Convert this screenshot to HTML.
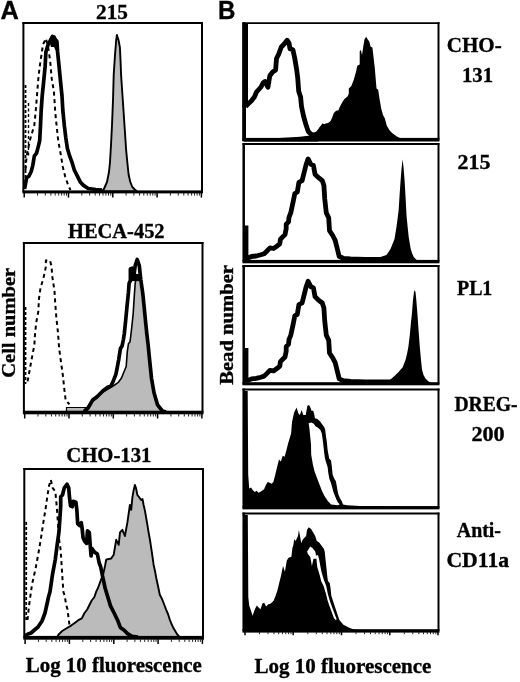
<!DOCTYPE html>
<html><head><meta charset="utf-8"><style>
html,body{margin:0;padding:0;background:#fff;}
body{width:520px;height:682px;overflow:hidden;font-family:"Liberation Serif",serif;}
svg{display:block;will-change:transform;}
</style></head><body>
<svg width="520" height="682" viewBox="0 0 520 682">
<rect width="520" height="682" fill="#fff"/>
<polygon points="100.0,191.5 103.7,189.5 107.0,182.0 109.0,172.0 110.0,162.0 111.0,145.0 112.0,125.0 113.0,100.0 113.7,75.0 115.0,55.0 116.2,40.0 116.9,35.0 118.5,40.0 119.9,47.4 120.5,60.0 121.1,75.0 122.3,93.0 123.6,112.0 124.8,130.0 126.1,149.6 127.3,162.0 128.6,174.5 130.3,182.0 132.3,187.0 134.8,189.5 137.0,191.5" fill="#bbbbbb" stroke="#000" stroke-width="1.9" stroke-linejoin="round"/>
<polyline points="25.5,170.0 26.6,156.2 28.2,148.5 29.7,140.8 32.0,133.0 34.3,125.4 35.8,110.0 37.0,95.3 38.2,80.0 39.4,68.7 41.0,58.0 43.0,44.5 46.0,38.5 48.5,49.4 50.3,62.3 51.7,78.4 53.9,91.6 54.7,103.3 55.1,110.0 56.1,121.0 56.6,125.4 58.2,140.8 60.5,153.0 62.8,166.9 65.1,176.2 68.2,185.4 70.5,190.0" fill="none" stroke="#000" stroke-width="2" stroke-dasharray="4,3.5"/>
<polyline points="25.5,85 25.5,190" fill="none" stroke="#000" stroke-width="1.8" stroke-dasharray="3,2"/>
<polyline points="28.5,103 28.5,156" fill="none" stroke="#000" stroke-width="1.4" stroke-dasharray="3,2.5"/>
<polyline points="24.5,189.0 25.8,182.3 26.6,177.7 28.9,176.2 31.2,171.5 32.8,165.4 34.3,156.2 36.6,153.0 38.2,146.9 39.7,140.8 40.5,125.4 41.2,110.0 42.2,96.0 43.7,81.3 45.1,66.7 45.9,52.0 48.0,45.0 50.5,40.0 52.5,36.5 54.0,37.0 55.5,40.0 56.9,41.7 57.6,52.0 59.1,66.7 60.5,81.3 62.0,96.0 62.8,110.0 64.3,125.4 65.8,137.7 67.4,148.5 69.7,156.2 72.0,162.3 74.3,170.0 77.4,176.2 80.5,182.3 83.5,185.4 88.2,188.5 95.8,189.5 102.0,190.0" fill="none" stroke="#000" stroke-width="3.7" stroke-linejoin="round"/>
<polygon points="49.5,42 52.5,35.5 55.5,38 58.2,40 58.3,52 56.5,52 54,47 51,47" fill="#000"/>
<polygon points="86.0,412.0 88.0,409.0 92.7,401.0 97.3,397.5 103.0,392.0 108.0,389.0 114.6,385.0 118.0,382.7 121.5,378.0 123.8,372.3 126.2,366.5 126.7,359.6 127.3,351.5 128.5,343.5 130.0,342.0 131.8,327.0 133.2,313.3 133.8,303.8 134.5,292.9 135.2,283.3 136.0,278.0 137.5,279.0 139.5,282.0 141.0,292.9 142.5,306.5 143.8,320.1 145.1,333.7 146.5,344.6 149.0,358.9 151.0,378.2 153.5,392.7 157.0,404.9 161.0,412.0" fill="#bbbbbb" stroke="none"/>
<rect x="66.7" y="407.7" width="19" height="3.8" fill="#bbbbbb" stroke="none"/>
<polyline points="66.5,411 66.5,407.5 86,407.5" fill="none" stroke="#000" stroke-width="1.2"/>
<polyline points="86.0,411.0 88.0,409.0 92.7,401.0 97.3,397.5 103.0,392.0 108.0,389.0 114.6,385.0 118.0,382.7 121.5,378.0 123.8,372.3 126.2,366.5 126.7,359.6 127.3,351.5 128.5,343.5 130.0,342.0 131.8,327.0 133.2,313.3 133.8,303.8 134.5,292.9 135.2,283.3 136.0,278.0" fill="none" stroke="#000" stroke-width="1.6" stroke-linejoin="round"/>
<polyline points="84.0,411.5 88.0,408.0 92.7,400.0 97.3,396.5 103.0,390.8 107.7,387.3 111.0,386.0 113.5,380.4 115.8,374.6 117.0,368.8 118.7,359.6 120.4,348.7 122.1,345.8 123.3,340.0 124.3,333.7 125.7,320.1 127.0,306.5 128.4,292.9 129.1,283.3 130.4,280.6 130.4,269.0 131.8,268.3 132.5,272.4 133.8,276.5 135.2,265.6 137.2,259.5 139.3,265.6 140.7,279.2 142.7,292.9 144.1,306.5 145.4,320.1 146.8,333.7 148.1,344.6 149.5,358.9 151.5,378.2 154.0,392.7 157.6,404.9 162.4,411.0 166.0,412.0" fill="none" stroke="#000" stroke-width="3.7" stroke-linejoin="round"/>
<polygon points="129.5,281 141.3,281.3 139,274 131,273.8" fill="#000"/>
<polyline points="27.6,381.4 29.5,371.0 31.4,360.5 33.0,352.0 34.4,345.0 34.7,338.0 36.1,323.3 38.3,311.6 39.0,298.4 40.5,288.1 43.5,277.9 45.7,267.6 45.9,260.5 50.0,260.5 51.5,266.1 52.3,276.4 54.5,291.1 55.2,302.8 56.3,317.0 58.0,333.0 59.2,349.0 61.0,362.0 62.9,375.7 64.3,389.0 65.7,400.5 69.5,404.3" fill="none" stroke="#000" stroke-width="2" stroke-dasharray="4,3.5"/>
<polyline points="25.5,307 25.5,384" fill="none" stroke="#000" stroke-width="1.8" stroke-dasharray="3,2"/>
<polygon points="57.0,637.5 58.6,634.5 62.2,631.0 66.6,628.3 71.1,625.6 74.7,622.9 78.3,620.2 81.8,618.4 84.5,613.0 87.2,609.5 89.9,604.0 91.7,600.5 94.4,597.0 96.2,591.6 98.0,588.0 100.6,580.9 103.3,573.7 105.0,566.0 106.2,559.7 108.7,559.0 111.2,558.5 113.7,554.7 116.2,539.8 118.7,544.8 120.0,532.3 122.4,529.8 124.9,536.0 127.4,522.4 129.9,504.9 131.2,509.9 132.4,497.4 133.7,489.9 134.9,485.0 136.0,488.0 137.4,495.0 139.0,497.0 141.1,500.0 142.5,499.0 143.6,505.0 145.0,511.0 146.1,517.4 147.4,525.0 148.6,532.3 150.0,540.0 151.1,547.3 152.4,556.0 153.6,564.7 155.0,571.0 156.1,577.2 158.0,586.0 159.8,594.7 161.0,597.0 162.3,599.6 164.0,604.0 166.1,609.6 168.0,614.0 169.8,619.6 171.5,624.0 173.6,628.3 175.5,631.5 177.3,634.5 180.0,637.5" fill="#bbbbbb" stroke="#000" stroke-width="1.9" stroke-linejoin="round"/>
<polyline points="27.5,620.0 29.0,606.0 31.0,591.7 32.0,584.5 35.6,568.4 38.3,554.0 41.0,538.0 43.7,520.0 45.5,509.4 47.3,496.8 49.0,486.0 50.8,479.8 52.6,487.9 55.3,491.5 56.2,500.4 57.1,511.2 58.0,523.7 58.9,538.0 60.7,550.5 61.6,564.9 62.5,579.2 63.4,591.7 64.8,596.0 66.0,604.0 67.5,609.5 69.3,623.8 70.0,627.0" fill="none" stroke="#000" stroke-width="2" stroke-dasharray="4,3.5"/>
<polyline points="26.2,522 26.2,620" fill="none" stroke="#000" stroke-width="1.8" stroke-dasharray="3,2"/>
<polyline points="24.5,636.0 28.0,634.0 31.0,633.0 35.0,629.5 38.0,627.0 42.0,621.0 45.0,613.0 47.0,604.0 48.5,597.0 50.0,591.7 52.6,573.8 55.3,559.5 57.1,545.2 58.9,532.6 59.8,520.1 60.7,505.8 60.7,496.8 62.5,495.0 64.3,487.9 67.0,484.3 68.7,487.9 69.6,498.6 70.5,505.8 72.3,506.7 73.2,501.3 75.9,502.2 76.8,509.4 77.7,523.7 79.5,525.5 81.3,522.8 82.2,529.0 83.1,538.0 84.9,541.6 86.6,543.4 87.5,530.9 89.3,532.6 90.2,545.2 91.1,555.9 92.0,548.7 94.7,552.3 97.4,554.1 99.2,563.0 100.6,566.5 102.4,575.5 105.1,588.0 107.8,597.0 110.5,605.9 114.1,613.0 117.6,620.2 120.3,627.4 123.9,630.0 127.5,633.6 132.0,636.3 138.0,637.0" fill="none" stroke="#000" stroke-width="3.7" stroke-linejoin="round"/>
<line x1="22.4" y1="23.1" x2="203.0" y2="23.1" stroke="#000" stroke-width="2.0"/>
<line x1="23.4" y1="22.1" x2="23.4" y2="191.9" stroke="#000" stroke-width="2.0"/>
<line x1="202.0" y1="22.1" x2="202.0" y2="191.9" stroke="#000" stroke-width="2.0"/>
<rect x="22.4" y="190.4" width="180.6" height="3.0" fill="#000"/>
<line x1="24.2" y1="192.9" x2="24.2" y2="197.6" stroke="#000" stroke-width="1.5"/>
<line x1="37.5" y1="192.9" x2="37.5" y2="195.6" stroke="#222" stroke-width="1"/>
<line x1="45.3" y1="192.9" x2="45.3" y2="195.6" stroke="#222" stroke-width="1"/>
<line x1="50.9" y1="192.9" x2="50.9" y2="195.6" stroke="#222" stroke-width="1"/>
<line x1="55.2" y1="192.9" x2="55.2" y2="195.6" stroke="#222" stroke-width="1"/>
<line x1="58.7" y1="192.9" x2="58.7" y2="195.6" stroke="#222" stroke-width="1"/>
<line x1="61.6" y1="192.9" x2="61.6" y2="195.6" stroke="#222" stroke-width="1"/>
<line x1="64.2" y1="192.9" x2="64.2" y2="195.6" stroke="#222" stroke-width="1"/>
<line x1="66.5" y1="192.9" x2="66.5" y2="195.6" stroke="#222" stroke-width="1"/>
<line x1="68.5" y1="192.9" x2="68.5" y2="197.6" stroke="#000" stroke-width="1.5"/>
<line x1="81.8" y1="192.9" x2="81.8" y2="195.6" stroke="#222" stroke-width="1"/>
<line x1="89.6" y1="192.9" x2="89.6" y2="195.6" stroke="#222" stroke-width="1"/>
<line x1="95.2" y1="192.9" x2="95.2" y2="195.6" stroke="#222" stroke-width="1"/>
<line x1="99.5" y1="192.9" x2="99.5" y2="195.6" stroke="#222" stroke-width="1"/>
<line x1="103.0" y1="192.9" x2="103.0" y2="195.6" stroke="#222" stroke-width="1"/>
<line x1="105.9" y1="192.9" x2="105.9" y2="195.6" stroke="#222" stroke-width="1"/>
<line x1="108.5" y1="192.9" x2="108.5" y2="195.6" stroke="#222" stroke-width="1"/>
<line x1="110.8" y1="192.9" x2="110.8" y2="195.6" stroke="#222" stroke-width="1"/>
<line x1="112.8" y1="192.9" x2="112.8" y2="197.6" stroke="#000" stroke-width="1.5"/>
<line x1="126.1" y1="192.9" x2="126.1" y2="195.6" stroke="#222" stroke-width="1"/>
<line x1="133.9" y1="192.9" x2="133.9" y2="195.6" stroke="#222" stroke-width="1"/>
<line x1="139.5" y1="192.9" x2="139.5" y2="195.6" stroke="#222" stroke-width="1"/>
<line x1="143.8" y1="192.9" x2="143.8" y2="195.6" stroke="#222" stroke-width="1"/>
<line x1="147.3" y1="192.9" x2="147.3" y2="195.6" stroke="#222" stroke-width="1"/>
<line x1="150.2" y1="192.9" x2="150.2" y2="195.6" stroke="#222" stroke-width="1"/>
<line x1="152.8" y1="192.9" x2="152.8" y2="195.6" stroke="#222" stroke-width="1"/>
<line x1="155.1" y1="192.9" x2="155.1" y2="195.6" stroke="#222" stroke-width="1"/>
<line x1="157.1" y1="192.9" x2="157.1" y2="197.6" stroke="#000" stroke-width="1.5"/>
<line x1="170.4" y1="192.9" x2="170.4" y2="195.6" stroke="#222" stroke-width="1"/>
<line x1="178.2" y1="192.9" x2="178.2" y2="195.6" stroke="#222" stroke-width="1"/>
<line x1="183.8" y1="192.9" x2="183.8" y2="195.6" stroke="#222" stroke-width="1"/>
<line x1="188.1" y1="192.9" x2="188.1" y2="195.6" stroke="#222" stroke-width="1"/>
<line x1="191.6" y1="192.9" x2="191.6" y2="195.6" stroke="#222" stroke-width="1"/>
<line x1="194.5" y1="192.9" x2="194.5" y2="195.6" stroke="#222" stroke-width="1"/>
<line x1="197.1" y1="192.9" x2="197.1" y2="195.6" stroke="#222" stroke-width="1"/>
<line x1="199.4" y1="192.9" x2="199.4" y2="195.6" stroke="#222" stroke-width="1"/>
<line x1="201.4" y1="192.9" x2="201.4" y2="197.6" stroke="#000" stroke-width="1.5"/>
<line x1="22.9" y1="243.1" x2="203.5" y2="243.1" stroke="#000" stroke-width="2.0"/>
<line x1="23.9" y1="242.1" x2="23.9" y2="412.5" stroke="#000" stroke-width="2.0"/>
<line x1="202.5" y1="242.1" x2="202.5" y2="412.5" stroke="#000" stroke-width="2.0"/>
<rect x="22.9" y="410.7" width="180.6" height="3.6" fill="#000"/>
<line x1="24.7" y1="413.8" x2="24.7" y2="418.5" stroke="#000" stroke-width="1.5"/>
<line x1="38.0" y1="413.8" x2="38.0" y2="416.5" stroke="#222" stroke-width="1"/>
<line x1="45.8" y1="413.8" x2="45.8" y2="416.5" stroke="#222" stroke-width="1"/>
<line x1="51.4" y1="413.8" x2="51.4" y2="416.5" stroke="#222" stroke-width="1"/>
<line x1="55.7" y1="413.8" x2="55.7" y2="416.5" stroke="#222" stroke-width="1"/>
<line x1="59.2" y1="413.8" x2="59.2" y2="416.5" stroke="#222" stroke-width="1"/>
<line x1="62.1" y1="413.8" x2="62.1" y2="416.5" stroke="#222" stroke-width="1"/>
<line x1="64.7" y1="413.8" x2="64.7" y2="416.5" stroke="#222" stroke-width="1"/>
<line x1="67.0" y1="413.8" x2="67.0" y2="416.5" stroke="#222" stroke-width="1"/>
<line x1="69.0" y1="413.8" x2="69.0" y2="418.5" stroke="#000" stroke-width="1.5"/>
<line x1="82.3" y1="413.8" x2="82.3" y2="416.5" stroke="#222" stroke-width="1"/>
<line x1="90.1" y1="413.8" x2="90.1" y2="416.5" stroke="#222" stroke-width="1"/>
<line x1="95.7" y1="413.8" x2="95.7" y2="416.5" stroke="#222" stroke-width="1"/>
<line x1="100.0" y1="413.8" x2="100.0" y2="416.5" stroke="#222" stroke-width="1"/>
<line x1="103.5" y1="413.8" x2="103.5" y2="416.5" stroke="#222" stroke-width="1"/>
<line x1="106.4" y1="413.8" x2="106.4" y2="416.5" stroke="#222" stroke-width="1"/>
<line x1="109.0" y1="413.8" x2="109.0" y2="416.5" stroke="#222" stroke-width="1"/>
<line x1="111.3" y1="413.8" x2="111.3" y2="416.5" stroke="#222" stroke-width="1"/>
<line x1="113.3" y1="413.8" x2="113.3" y2="418.5" stroke="#000" stroke-width="1.5"/>
<line x1="126.6" y1="413.8" x2="126.6" y2="416.5" stroke="#222" stroke-width="1"/>
<line x1="134.4" y1="413.8" x2="134.4" y2="416.5" stroke="#222" stroke-width="1"/>
<line x1="140.0" y1="413.8" x2="140.0" y2="416.5" stroke="#222" stroke-width="1"/>
<line x1="144.3" y1="413.8" x2="144.3" y2="416.5" stroke="#222" stroke-width="1"/>
<line x1="147.8" y1="413.8" x2="147.8" y2="416.5" stroke="#222" stroke-width="1"/>
<line x1="150.7" y1="413.8" x2="150.7" y2="416.5" stroke="#222" stroke-width="1"/>
<line x1="153.3" y1="413.8" x2="153.3" y2="416.5" stroke="#222" stroke-width="1"/>
<line x1="155.6" y1="413.8" x2="155.6" y2="416.5" stroke="#222" stroke-width="1"/>
<line x1="157.6" y1="413.8" x2="157.6" y2="418.5" stroke="#000" stroke-width="1.5"/>
<line x1="170.9" y1="413.8" x2="170.9" y2="416.5" stroke="#222" stroke-width="1"/>
<line x1="178.7" y1="413.8" x2="178.7" y2="416.5" stroke="#222" stroke-width="1"/>
<line x1="184.3" y1="413.8" x2="184.3" y2="416.5" stroke="#222" stroke-width="1"/>
<line x1="188.6" y1="413.8" x2="188.6" y2="416.5" stroke="#222" stroke-width="1"/>
<line x1="192.1" y1="413.8" x2="192.1" y2="416.5" stroke="#222" stroke-width="1"/>
<line x1="195.0" y1="413.8" x2="195.0" y2="416.5" stroke="#222" stroke-width="1"/>
<line x1="197.6" y1="413.8" x2="197.6" y2="416.5" stroke="#222" stroke-width="1"/>
<line x1="199.9" y1="413.8" x2="199.9" y2="416.5" stroke="#222" stroke-width="1"/>
<line x1="201.9" y1="413.8" x2="201.9" y2="418.5" stroke="#000" stroke-width="1.5"/>
<line x1="23.3" y1="469.1" x2="204.0" y2="469.1" stroke="#000" stroke-width="2.0"/>
<line x1="24.3" y1="468.1" x2="24.3" y2="637.8" stroke="#000" stroke-width="2.0"/>
<line x1="203.0" y1="468.1" x2="203.0" y2="637.8" stroke="#000" stroke-width="2.0"/>
<rect x="23.3" y="635.9" width="180.7" height="3.8" fill="#000"/>
<line x1="25.1" y1="639.1999999999999" x2="25.1" y2="643.9" stroke="#000" stroke-width="1.5"/>
<line x1="38.4" y1="639.1999999999999" x2="38.4" y2="641.9" stroke="#222" stroke-width="1"/>
<line x1="46.2" y1="639.1999999999999" x2="46.2" y2="641.9" stroke="#222" stroke-width="1"/>
<line x1="51.8" y1="639.1999999999999" x2="51.8" y2="641.9" stroke="#222" stroke-width="1"/>
<line x1="56.1" y1="639.1999999999999" x2="56.1" y2="641.9" stroke="#222" stroke-width="1"/>
<line x1="59.6" y1="639.1999999999999" x2="59.6" y2="641.9" stroke="#222" stroke-width="1"/>
<line x1="62.6" y1="639.1999999999999" x2="62.6" y2="641.9" stroke="#222" stroke-width="1"/>
<line x1="65.1" y1="639.1999999999999" x2="65.1" y2="641.9" stroke="#222" stroke-width="1"/>
<line x1="67.4" y1="639.1999999999999" x2="67.4" y2="641.9" stroke="#222" stroke-width="1"/>
<line x1="69.4" y1="639.1999999999999" x2="69.4" y2="643.9" stroke="#000" stroke-width="1.5"/>
<line x1="82.8" y1="639.1999999999999" x2="82.8" y2="641.9" stroke="#222" stroke-width="1"/>
<line x1="90.6" y1="639.1999999999999" x2="90.6" y2="641.9" stroke="#222" stroke-width="1"/>
<line x1="96.1" y1="639.1999999999999" x2="96.1" y2="641.9" stroke="#222" stroke-width="1"/>
<line x1="100.4" y1="639.1999999999999" x2="100.4" y2="641.9" stroke="#222" stroke-width="1"/>
<line x1="103.9" y1="639.1999999999999" x2="103.9" y2="641.9" stroke="#222" stroke-width="1"/>
<line x1="106.9" y1="639.1999999999999" x2="106.9" y2="641.9" stroke="#222" stroke-width="1"/>
<line x1="109.5" y1="639.1999999999999" x2="109.5" y2="641.9" stroke="#222" stroke-width="1"/>
<line x1="111.7" y1="639.1999999999999" x2="111.7" y2="641.9" stroke="#222" stroke-width="1"/>
<line x1="113.8" y1="639.1999999999999" x2="113.8" y2="643.9" stroke="#000" stroke-width="1.5"/>
<line x1="127.1" y1="639.1999999999999" x2="127.1" y2="641.9" stroke="#222" stroke-width="1"/>
<line x1="134.9" y1="639.1999999999999" x2="134.9" y2="641.9" stroke="#222" stroke-width="1"/>
<line x1="140.4" y1="639.1999999999999" x2="140.4" y2="641.9" stroke="#222" stroke-width="1"/>
<line x1="144.7" y1="639.1999999999999" x2="144.7" y2="641.9" stroke="#222" stroke-width="1"/>
<line x1="148.2" y1="639.1999999999999" x2="148.2" y2="641.9" stroke="#222" stroke-width="1"/>
<line x1="151.2" y1="639.1999999999999" x2="151.2" y2="641.9" stroke="#222" stroke-width="1"/>
<line x1="153.8" y1="639.1999999999999" x2="153.8" y2="641.9" stroke="#222" stroke-width="1"/>
<line x1="156.0" y1="639.1999999999999" x2="156.0" y2="641.9" stroke="#222" stroke-width="1"/>
<line x1="158.1" y1="639.1999999999999" x2="158.1" y2="643.9" stroke="#000" stroke-width="1.5"/>
<line x1="171.4" y1="639.1999999999999" x2="171.4" y2="641.9" stroke="#222" stroke-width="1"/>
<line x1="179.2" y1="639.1999999999999" x2="179.2" y2="641.9" stroke="#222" stroke-width="1"/>
<line x1="184.8" y1="639.1999999999999" x2="184.8" y2="641.9" stroke="#222" stroke-width="1"/>
<line x1="189.1" y1="639.1999999999999" x2="189.1" y2="641.9" stroke="#222" stroke-width="1"/>
<line x1="192.6" y1="639.1999999999999" x2="192.6" y2="641.9" stroke="#222" stroke-width="1"/>
<line x1="195.5" y1="639.1999999999999" x2="195.5" y2="641.9" stroke="#222" stroke-width="1"/>
<line x1="198.1" y1="639.1999999999999" x2="198.1" y2="641.9" stroke="#222" stroke-width="1"/>
<line x1="200.4" y1="639.1999999999999" x2="200.4" y2="641.9" stroke="#222" stroke-width="1"/>
<line x1="202.4" y1="639.1999999999999" x2="202.4" y2="643.9" stroke="#000" stroke-width="1.5"/>
<polygon points="316.0,141.0 316.5,135.0 318.8,132.7 321.2,128.0 323.5,124.6 325.8,123.5 328.0,122.9 330.4,121.2 332.1,117.7 333.8,113.0 336.2,110.8 338.5,110.2 339.6,107.3 342.0,102.7 344.2,99.2 347.7,96.3 348.8,93.5 348.8,88.5 351.3,86.1 353.7,80.1 356.0,71.7 357.3,65.7 359.7,64.5 359.7,51.2 360.9,50.0 362.0,54.9 363.3,46.4 364.5,39.2 366.2,36.8 367.6,39.2 369.3,41.6 370.5,46.4 372.4,47.6 373.4,56.0 374.8,68.0 376.5,88.5 378.2,89.7 379.6,99.3 381.3,109.0 383.0,115.0 384.9,118.6 386.8,125.8 389.7,130.6 392.1,133.0 396.9,136.6 400.5,138.3 438.0,138.3 438.0,141.0" fill="#000"/>
<polyline points="245.5,106.5 248.0,104.0 251.5,100.8 254.4,97.0 256.5,92.0 259.2,89.0 261.0,87.0 263.0,83.0 265.0,81.5 267.9,87.3 269.8,75.8 272.7,72.0 275.6,70.0 276.5,58.5 278.5,54.6 281.3,47.0 284.2,44.0 287.1,40.2 289.0,43.0 290.0,48.8 292.9,49.8 294.8,58.5 296.7,70.0 297.7,77.7 298.7,91.2 300.6,97.0 301.5,106.5 303.5,116.0 306.3,125.8 308.3,131.5 311.2,134.4 315.0,135.0 317.9,133.5 320.8,129.6 324.6,124.8" fill="none" stroke="#000" stroke-width="4.8" stroke-linejoin="round"/>
<rect x="242.3" y="23" width="5.7" height="84" fill="#000"/>
<rect x="242.4" y="105" width="3.6" height="36" fill="#000"/>
<polygon points="244,141.5 244,140 250,139.6 270,138.6 288,137.6 300,136.8 310,135.6 318,135.2 318,141.5" fill="#000"/>
<polygon points="368.0,261.0 372.0,259.5 376.0,258.5 380.4,257.0 386.4,255.0 388.5,252.0 390.5,249.0 392.5,244.0 394.5,239.0 396.5,226.8 398.6,210.7 399.6,195.0 400.6,180.4 401.6,168.0 402.6,159.2 403.6,168.0 404.6,180.4 405.6,198.0 406.6,216.7 408.7,237.0 410.7,249.0 412.0,253.0 413.7,257.0 416.7,260.0 420.0,261.0" fill="#000"/>
<polyline points="246.0,225.5 246.0,258.0 248.7,257.7 251.5,256.5 256.2,256.0 260.8,254.8 264.2,253.7 267.7,250.2 270.0,247.9 273.5,248.5 276.9,246.2 279.8,243.8 280.4,239.2 282.7,236.9 285.0,234.6 286.2,228.8 286.2,224.2 288.5,221.9 289.0,217.3 290.8,212.7 291.6,209.0 293.2,201.6 294.8,193.5 297.3,192.0 298.9,182.3 302.1,180.6 304.5,171.0 306.0,165.0 308.1,158.9 311.0,164.5 313.4,165.3 315.0,174.2 318.2,177.4 322.3,180.6 323.9,185.5 324.7,198.4 326.3,212.9 328.7,217.7 329.5,230.6 332.7,235.5 335.2,240.3 337.6,250.0 339.2,256.5 343.4,258.3 350.6,259.0 365.0,259.5 380.0,259.5 392.0,259.5" fill="none" stroke="#000" stroke-width="4.8" stroke-linejoin="round"/>
<polyline points="246.0,347.9 246.0,380.4 248.7,380.1 251.5,378.9 256.2,378.4 260.8,377.2 264.2,376.1 267.7,372.6 270.0,370.3 273.5,370.9 276.9,368.6 279.8,366.2 280.4,361.6 282.7,359.3 285.0,357.0 286.2,351.2 286.2,346.6 288.5,344.3 289.0,339.7 290.8,335.1 291.6,331.4 293.2,324.0 294.8,315.9 297.3,314.4 298.9,304.7 302.1,303.0 304.5,293.4 306.0,287.4 308.1,281.3 311.0,286.9 313.4,287.7 315.0,296.6 318.2,299.8 322.3,303.0 323.9,307.9 324.7,320.8 326.3,335.3 328.7,340.1 329.5,353.0 332.7,357.9 335.2,362.7 337.6,372.4 339.2,378.9 343.4,380.7 350.6,381.4 365.0,381.9 380.0,381.9 392.0,381.9" fill="none" stroke="#000" stroke-width="4.8" stroke-linejoin="round"/>
<polygon points="385.0,384.0 388.0,382.0 391.0,379.0 395.0,375.5 399.0,371.5 402.7,367.3 405.5,360.0 407.0,354.0 408.4,346.8 409.8,335.0 411.0,322.0 411.8,315.0 413.0,300.0 414.0,292.0 414.7,290.3 415.5,292.0 416.3,300.0 417.5,315.0 418.7,332.0 419.8,346.8 421.0,360.0 422.0,369.5 423.5,375.0 425.5,378.6 428.0,381.0 432.0,383.5" fill="#000"/>
<polygon points="243.5,508.0 243.5,391.0 247.7,391.0 248.2,474.4 249.2,488.4 251.0,487.5 252.9,490.3 254.8,492.1 256.6,490.8 258.5,492.7 261.3,491.2 264.1,489.3 266.0,484.7 267.8,481.9 269.7,482.8 271.5,483.8 273.4,481.9 275.3,474.4 277.1,467.0 279.0,459.5 280.9,461.4 282.7,455.8 284.6,456.7 286.4,450.2 288.3,442.8 291.1,433.4 292.0,422.3 293.0,417.6 294.1,412.4 296.6,407.4 298.3,413.2 299.9,414.9 301.6,409.9 303.3,414.9 305.7,414.9 307.4,405.8 309.1,404.9 310.7,408.3 311.5,410.7 313.2,410.7 314.0,413.2 314.9,418.2 317.4,419.0 320.2,421.5 321.9,424.0 324.3,427.3 325.2,429.8 326.0,436.4 326.8,441.4 327.6,449.7 328.5,454.7 329.3,458.8 331.0,460.5 331.8,466.3 332.6,474.6 334.3,478.7 335.9,481.2 336.8,486.2 337.6,491.1 338.4,494.5 340.1,498.6 341.7,501.1 343.0,504.4 347.2,505.2 360.0,506.0 438.0,506.3 438.0,508.0" fill="#000"/>
<polygon points="308.6,423.2 309.4,428.2 310.2,436.4 311.0,444.7 311.2,454.7 312.9,464.6 314.5,471.2 317.0,477.9 319.5,484.5 322.0,491.1 324.5,496.1 327.8,501.1 331.1,504.4 338.1,505.2 339.7,504.2 338.0,502.5 336.6,500.0 335.4,497.0 334.2,494.0 333.1,491.0 332.0,486.5 330.8,482.5 329.4,479.0 328.3,473.0 327.6,467.0 326.0,462.0 325.0,458.5 324.2,453.0 323.5,446.4 322.7,439.8 321.8,433.5 320.4,430.0 318.0,427.8 315.5,426.2 313.8,423.8 311.3,422.6" fill="#fff"/>
<polygon points="243.5,632.0 243.5,515.0 247.8,515.0 248.3,597.0 249.2,605.5 251.1,611.1 252.6,615.8 254.9,609.3 256.8,605.5 258.6,607.4 260.5,609.3 262.4,603.6 264.2,602.7 266.1,606.4 268.0,604.6 270.8,603.6 273.6,600.8 275.5,596.1 277.4,590.5 279.2,583.0 281.1,575.5 283.0,566.1 284.9,571.8 286.8,560.5 288.6,557.7 291.4,556.8 292.4,548.0 293.3,545.5 294.2,539.0 295.3,540.9 296.1,539.9 298.0,536.1 298.9,530.0 300.0,536.0 301.3,543.3 302.5,540.0 303.7,538.5 306.1,536.0 307.0,530.0 308.7,527.3 311.1,528.9 313.5,532.9 315.2,536.1 316.8,541.0 319.2,542.6 321.6,545.8 324.0,549.0 324.8,552.3 325.6,560.3 326.5,568.4 327.3,576.5 328.0,581.3 329.7,582.9 330.5,587.7 331.3,595.8 332.9,600.6 334.5,605.5 336.1,610.3 337.7,615.2 339.4,620.0 343.4,624.8 349.8,628.0 354.7,629.7 370.0,630.0 438.0,630.0 438.0,632.0" fill="#000"/>
<polygon points="307.1,551.5 310.3,546.6 312.7,548.2 315.2,551.5 316.8,558.7 313.5,558.7 311.9,566.0 310.3,557.0 307.9,553.9" fill="#fff"/>
<polygon points="315.1,556.0 316.4,558.7 317.2,566.8 319.6,574.8 321.2,581.3 323.6,586.1 326.1,594.2 327.6,600.6 329.3,605.5 331.7,611.9 334.1,618.4 335.6,620.0 336.7,619.2 335.1,615.2 332.7,608.7 330.3,602.3 327.9,594.2 326.2,586.1 323.8,579.7 321.4,571.6 319.0,558.7 317.9,555.0" fill="#fff"/>
<line x1="242.45" y1="23.1" x2="439.5" y2="23.1" stroke="#000" stroke-width="1.9"/>
<line x1="243.7" y1="22.150000000000002" x2="243.7" y2="139.7" stroke="#000" stroke-width="2.5"/>
<line x1="438.5" y1="22.150000000000002" x2="438.5" y2="139.7" stroke="#000" stroke-width="2.0"/>
<rect x="242.45" y="137.89999999999998" width="197.05" height="3.6" fill="#000"/>
<line x1="242.45" y1="144.0" x2="439.5" y2="144.0" stroke="#000" stroke-width="1.9"/>
<line x1="243.7" y1="143.05" x2="243.7" y2="261.6" stroke="#000" stroke-width="2.5"/>
<line x1="438.5" y1="143.05" x2="438.5" y2="261.6" stroke="#000" stroke-width="2.0"/>
<rect x="242.45" y="259.90000000000003" width="197.05" height="3.4" fill="#000"/>
<line x1="242.45" y1="266.0" x2="439.5" y2="266.0" stroke="#000" stroke-width="1.9"/>
<line x1="243.7" y1="265.05" x2="243.7" y2="383.75" stroke="#000" stroke-width="2.5"/>
<line x1="438.5" y1="265.05" x2="438.5" y2="383.75" stroke="#000" stroke-width="2.0"/>
<rect x="242.45" y="382.2" width="197.05" height="3.1" fill="#000"/>
<line x1="242.45" y1="389.5" x2="439.5" y2="389.5" stroke="#000" stroke-width="1.9"/>
<line x1="243.7" y1="388.55" x2="243.7" y2="507.8" stroke="#000" stroke-width="2.5"/>
<line x1="438.5" y1="388.55" x2="438.5" y2="507.8" stroke="#000" stroke-width="2.0"/>
<rect x="242.45" y="506.25" width="197.05" height="3.1" fill="#000"/>
<line x1="242.45" y1="513.5" x2="439.5" y2="513.5" stroke="#000" stroke-width="1.9"/>
<line x1="243.7" y1="512.55" x2="243.7" y2="630.9" stroke="#000" stroke-width="2.5"/>
<line x1="438.5" y1="512.55" x2="438.5" y2="630.9" stroke="#000" stroke-width="2.0"/>
<rect x="242.45" y="629.1999999999999" width="197.05" height="3.4" fill="#000"/>
<line x1="245.0" y1="632.1" x2="245.0" y2="635.2" stroke="#000" stroke-width="1.5"/>
<line x1="259.5" y1="632.1" x2="259.5" y2="634.2" stroke="#222" stroke-width="1"/>
<line x1="268.0" y1="632.1" x2="268.0" y2="634.2" stroke="#222" stroke-width="1"/>
<line x1="274.0" y1="632.1" x2="274.0" y2="634.2" stroke="#222" stroke-width="1"/>
<line x1="278.7" y1="632.1" x2="278.7" y2="634.2" stroke="#222" stroke-width="1"/>
<line x1="282.5" y1="632.1" x2="282.5" y2="634.2" stroke="#222" stroke-width="1"/>
<line x1="285.8" y1="632.1" x2="285.8" y2="634.2" stroke="#222" stroke-width="1"/>
<line x1="288.6" y1="632.1" x2="288.6" y2="634.2" stroke="#222" stroke-width="1"/>
<line x1="291.0" y1="632.1" x2="291.0" y2="634.2" stroke="#222" stroke-width="1"/>
<line x1="293.2" y1="632.1" x2="293.2" y2="635.2" stroke="#000" stroke-width="1.5"/>
<line x1="307.8" y1="632.1" x2="307.8" y2="634.2" stroke="#222" stroke-width="1"/>
<line x1="316.3" y1="632.1" x2="316.3" y2="634.2" stroke="#222" stroke-width="1"/>
<line x1="322.3" y1="632.1" x2="322.3" y2="634.2" stroke="#222" stroke-width="1"/>
<line x1="327.0" y1="632.1" x2="327.0" y2="634.2" stroke="#222" stroke-width="1"/>
<line x1="330.8" y1="632.1" x2="330.8" y2="634.2" stroke="#222" stroke-width="1"/>
<line x1="334.0" y1="632.1" x2="334.0" y2="634.2" stroke="#222" stroke-width="1"/>
<line x1="336.8" y1="632.1" x2="336.8" y2="634.2" stroke="#222" stroke-width="1"/>
<line x1="339.3" y1="632.1" x2="339.3" y2="634.2" stroke="#222" stroke-width="1"/>
<line x1="341.5" y1="632.1" x2="341.5" y2="635.2" stroke="#000" stroke-width="1.5"/>
<line x1="356.0" y1="632.1" x2="356.0" y2="634.2" stroke="#222" stroke-width="1"/>
<line x1="364.5" y1="632.1" x2="364.5" y2="634.2" stroke="#222" stroke-width="1"/>
<line x1="370.5" y1="632.1" x2="370.5" y2="634.2" stroke="#222" stroke-width="1"/>
<line x1="375.2" y1="632.1" x2="375.2" y2="634.2" stroke="#222" stroke-width="1"/>
<line x1="379.0" y1="632.1" x2="379.0" y2="634.2" stroke="#222" stroke-width="1"/>
<line x1="382.3" y1="632.1" x2="382.3" y2="634.2" stroke="#222" stroke-width="1"/>
<line x1="385.1" y1="632.1" x2="385.1" y2="634.2" stroke="#222" stroke-width="1"/>
<line x1="387.5" y1="632.1" x2="387.5" y2="634.2" stroke="#222" stroke-width="1"/>
<line x1="389.8" y1="632.1" x2="389.8" y2="635.2" stroke="#000" stroke-width="1.5"/>
<line x1="404.3" y1="632.1" x2="404.3" y2="634.2" stroke="#222" stroke-width="1"/>
<line x1="412.8" y1="632.1" x2="412.8" y2="634.2" stroke="#222" stroke-width="1"/>
<line x1="418.8" y1="632.1" x2="418.8" y2="634.2" stroke="#222" stroke-width="1"/>
<line x1="423.5" y1="632.1" x2="423.5" y2="634.2" stroke="#222" stroke-width="1"/>
<line x1="427.3" y1="632.1" x2="427.3" y2="634.2" stroke="#222" stroke-width="1"/>
<line x1="430.5" y1="632.1" x2="430.5" y2="634.2" stroke="#222" stroke-width="1"/>
<line x1="433.3" y1="632.1" x2="433.3" y2="634.2" stroke="#222" stroke-width="1"/>
<line x1="435.8" y1="632.1" x2="435.8" y2="634.2" stroke="#222" stroke-width="1"/>
<line x1="438.0" y1="632.1" x2="438.0" y2="635.2" stroke="#000" stroke-width="1.5"/>
<text x="0.5" y="19.0" font-family='"Liberation Sans", sans-serif' font-weight="bold" font-size="25.3" textLength="18.3" lengthAdjust="spacingAndGlyphs" stroke="#000" stroke-width="0.35">A</text>
<text x="217.9" y="19.0" font-family='"Liberation Sans", sans-serif' font-weight="bold" font-size="25.0" textLength="17.4" lengthAdjust="spacingAndGlyphs" stroke="#000" stroke-width="0.35">B</text>
<text x="96.0" y="19.0" font-family='"Liberation Serif", serif' font-weight="bold" font-size="20.5" textLength="31.9" lengthAdjust="spacingAndGlyphs" stroke="#000" stroke-width="0.35">215</text>
<text x="68.0" y="237.8" font-family='"Liberation Serif", serif' font-weight="bold" font-size="20.5" textLength="96.6" lengthAdjust="spacingAndGlyphs" stroke="#000" stroke-width="0.35">HECA-452</text>
<text x="66.2" y="461.7" font-family='"Liberation Serif", serif' font-weight="bold" font-size="20.5" textLength="85.3" lengthAdjust="spacingAndGlyphs" stroke="#000" stroke-width="0.35">CHO-131</text>
<text x="25.8" y="672.3" font-family='"Liberation Serif", serif' font-weight="bold" font-size="20.5" textLength="176.0" lengthAdjust="spacingAndGlyphs" stroke="#000" stroke-width="0.35">Log 10 fluorescence</text>
<text x="254.4" y="673.1" font-family='"Liberation Serif", serif' font-weight="bold" font-size="20.5" textLength="177.0" lengthAdjust="spacingAndGlyphs" stroke="#000" stroke-width="0.35">Log 10 fluorescence</text>
<text x="446.8" y="52.2" font-family='"Liberation Serif", serif' font-weight="bold" font-size="20.5" textLength="54.9" lengthAdjust="spacingAndGlyphs" stroke="#000" stroke-width="0.35">CHO-</text>
<text x="462.0" y="81.8" font-family='"Liberation Serif", serif' font-weight="bold" font-size="20.5" textLength="31.1" lengthAdjust="spacingAndGlyphs" stroke="#000" stroke-width="0.35">131</text>
<text x="457.6" y="168.7" font-family='"Liberation Serif", serif' font-weight="bold" font-size="20.5" textLength="32.9" lengthAdjust="spacingAndGlyphs" stroke="#000" stroke-width="0.35">215</text>
<text x="457.0" y="295.4" font-family='"Liberation Serif", serif' font-weight="bold" font-size="20.5" textLength="35.3" lengthAdjust="spacingAndGlyphs" stroke="#000" stroke-width="0.35">PL1</text>
<text x="454.4" y="410.9" font-family='"Liberation Serif", serif' font-weight="bold" font-size="20.5" textLength="63.2" lengthAdjust="spacingAndGlyphs" stroke="#000" stroke-width="0.35">DREG-</text>
<text x="471.4" y="440.5" font-family='"Liberation Serif", serif' font-weight="bold" font-size="20.5" textLength="33.3" lengthAdjust="spacingAndGlyphs" stroke="#000" stroke-width="0.35">200</text>
<text x="456.8" y="537.4" font-family='"Liberation Serif", serif' font-weight="bold" font-size="20.5" textLength="44.2" lengthAdjust="spacingAndGlyphs" stroke="#000" stroke-width="0.35">Anti-</text>
<text x="446.4" y="566.9" font-family='"Liberation Serif", serif' font-weight="bold" font-size="20.5" textLength="62.7" lengthAdjust="spacingAndGlyphs" stroke="#000" stroke-width="0.35">CD11a</text>
<text transform="translate(15.2,377.7) rotate(-90)" font-family='"Liberation Serif", serif' font-weight="bold" font-size="18.8" textLength="109.8" lengthAdjust="spacingAndGlyphs" stroke="#000" stroke-width="0.35">Cell number</text>
<text transform="translate(233.0,384.8) rotate(-90)" font-family='"Liberation Serif", serif' font-weight="bold" font-size="18.8" textLength="119.8" lengthAdjust="spacingAndGlyphs" stroke="#000" stroke-width="0.35">Bead number</text>
</svg>
</body></html>
